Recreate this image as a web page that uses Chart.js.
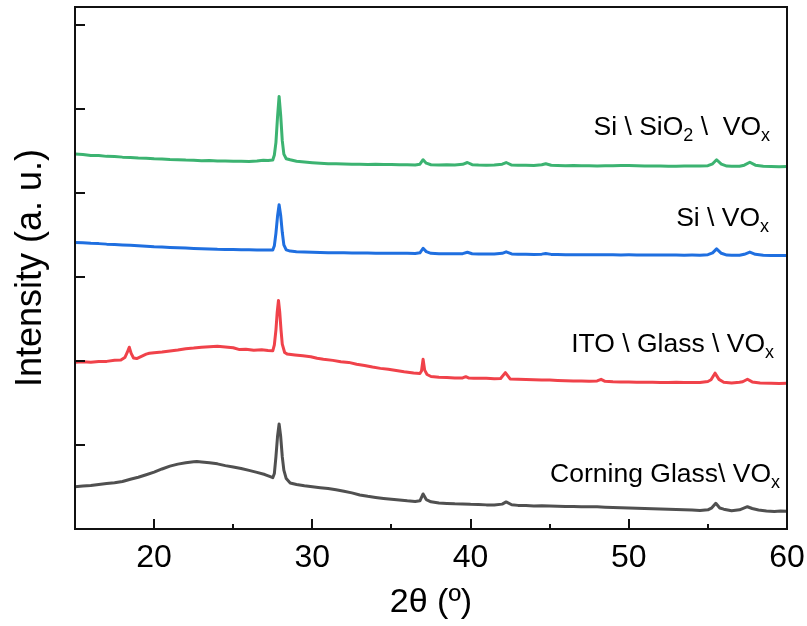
<!DOCTYPE html>
<html><head><meta charset="utf-8">
<script src="https://cdn.jsdelivr.net/npm/chart.js@4.4.1/dist/chart.umd.min.js"></script>
<style>html,body{margin:0;padding:0;background:#fff}</style>
</head><body>
<canvas id="c" width="807" height="626" style="width:807px;height:626px;display:block"></canvas>
<script>
// ---- data (2θ in degrees, intensity in offset arbitrary units) ----
const seriesNames = ["Corning Glass\\ VOx", "ITO \\ Glass \\ VOx", "Si \\ VOx", "Si \\ SiO2 \\  VOx"];
const xTickLabels = [20, 30, 40, 50, 60];

const corningGlass = [[15,0.504],[15.5,0.512],[16,0.518],[16.5,0.530],[17,0.540],[17.5,0.550],[18,0.565],[18.5,0.592],[19,0.616],[19.5,0.645],[20,0.676],[20.5,0.714],[21,0.748],[21.5,0.772],[22,0.787],[22.5,0.799],[22.7,0.802],[23,0.797],[23.5,0.788],[24,0.775],[24.5,0.754],[25,0.738],[25.5,0.720],[26,0.697],[26.5,0.674],[27,0.648],[27.3,0.625],[27.5,0.610],[27.6,0.66],[27.7,0.86],[27.8,1.10],[27.9,1.25],[28.0,1.10],[28.1,0.86],[28.2,0.70],[28.35,0.60],[28.6,0.548],[29,0.530],[29.5,0.515],[30,0.503],[30.5,0.492],[31,0.482],[31.5,0.466],[32,0.449],[32.5,0.430],[33,0.405],[33.5,0.389],[34,0.376],[34.5,0.364],[35,0.354],[35.5,0.345],[36,0.335],[36.5,0.328],[36.8,0.335],[37.0,0.417],[37.2,0.350],[37.5,0.324],[38,0.310],[38.5,0.304],[39,0.299],[39.5,0.297],[40,0.293],[40.5,0.292],[41,0.287],[41.5,0.286],[42,0.296],[42.25,0.322],[42.6,0.288],[43,0.281],[43.5,0.279],[44,0.275],[44.5,0.276],[45,0.274],[45.5,0.271],[46,0.268],[46.5,0.268],[47,0.266],[47.5,0.266],[48,0.264],[48.5,0.260],[49,0.256],[49.5,0.253],[50,0.250],[50.5,0.247],[51,0.244],[51.5,0.241],[52,0.238],[52.5,0.235],[53,0.232],[53.5,0.229],[54,0.226],[54.5,0.219],[55,0.228],[55.25,0.252],[55.5,0.306],[55.75,0.250],[56,0.236],[56.5,0.218],[57,0.228],[57.5,0.265],[57.8,0.244],[58.2,0.226],[58.7,0.214],[59.2,0.208],[59.6,0.214],[60,0.212]];

const itoGlass = [[15,1.985],[15.5,1.989],[16,1.983],[16.5,1.992],[17,1.994],[17.5,2.008],[17.9,2.010],[18.15,2.040],[18.3,2.100],[18.43,2.163],[18.55,2.090],[18.7,2.035],[18.9,2.028],[19.2,2.054],[19.5,2.080],[19.7,2.090],[20,2.098],[20.5,2.105],[21,2.118],[21.5,2.130],[22,2.145],[22.5,2.152],[23,2.163],[23.5,2.168],[24,2.173],[24.5,2.166],[25,2.156],[25.4,2.134],[25.8,2.139],[26.3,2.126],[26.8,2.132],[27.2,2.124],[27.5,2.120],[27.6,2.19],[27.7,2.37],[27.78,2.58],[27.86,2.718],[27.94,2.58],[28.02,2.37],[28.1,2.20],[28.25,2.10],[28.4,2.083],[28.9,2.071],[29.4,2.060],[29.9,2.050],[30.3,2.032],[30.7,2.020],[31.3,2.006],[31.8,1.990],[32.3,1.982],[32.8,1.960],[33.3,1.946],[33.8,1.927],[34.3,1.911],[34.8,1.900],[35.3,1.885],[35.8,1.870],[36.4,1.855],[36.8,1.850],[36.9,1.880],[37.0,2.020],[37.1,1.890],[37.25,1.838],[37.5,1.814],[38,1.806],[38.5,1.801],[39,1.795],[39.5,1.797],[39.7,1.812],[39.9,1.795],[40.2,1.794],[40.6,1.793],[41,1.792],[41.5,1.788],[41.9,1.790],[42.2,1.861],[42.5,1.785],[43,1.782],[43.5,1.780],[44,1.777],[44.5,1.774],[45,1.772],[45.5,1.768],[46,1.765],[46.5,1.762],[47,1.760],[47.5,1.757],[48,1.762],[48.25,1.780],[48.5,1.757],[49,1.752],[49.5,1.750],[50,1.748],[50.5,1.747],[51,1.746],[51.5,1.745],[52,1.744],[52.5,1.744],[53,1.745],[53.5,1.743],[54,1.742],[54.5,1.742],[55,1.755],[55.2,1.775],[55.45,1.854],[55.7,1.780],[56,1.746],[56.5,1.738],[57,1.745],[57.2,1.752],[57.5,1.782],[57.8,1.750],[58.3,1.738],[59,1.735],[59.5,1.732],[60,1.735]];

const siVOx = [[15,3.408],[15.5,3.404],[16,3.398],[16.5,3.395],[17,3.389],[17.5,3.386],[18,3.380],[18.5,3.376],[19,3.369],[19.5,3.364],[20,3.357],[20.5,3.354],[21,3.349],[21.5,3.346],[22,3.342],[22.5,3.337],[23,3.333],[23.5,3.331],[24,3.327],[24.5,3.326],[25,3.324],[25.5,3.322],[26,3.321],[26.5,3.320],[27,3.318],[27.5,3.318],[27.6,3.37],[27.7,3.52],[27.8,3.72],[27.9,3.857],[28.0,3.73],[28.1,3.53],[28.2,3.38],[28.35,3.320],[28.6,3.306],[29,3.299],[29.5,3.296],[30,3.292],[30.5,3.290],[31,3.287],[31.5,3.286],[32,3.285],[32.5,3.284],[33,3.282],[33.5,3.283],[34,3.281],[34.5,3.281],[35,3.280],[35.5,3.279],[36,3.279],[36.5,3.278],[36.8,3.286],[37.0,3.340],[37.2,3.300],[37.5,3.280],[38,3.275],[38.5,3.274],[39,3.274],[39.5,3.276],[39.8,3.292],[40.1,3.275],[40.5,3.273],[41,3.271],[41.5,3.272],[42,3.280],[42.25,3.298],[42.6,3.272],[43,3.270],[43.5,3.268],[44,3.267],[44.5,3.270],[44.75,3.278],[45.1,3.267],[45.5,3.265],[46,3.264],[46.5,3.264],[47,3.263],[47.5,3.263],[48,3.262],[48.5,3.263],[49,3.262],[49.5,3.261],[50,3.262],[50.5,3.261],[51,3.260],[51.5,3.261],[52,3.260],[52.5,3.259],[53,3.259],[53.5,3.258],[54,3.259],[54.5,3.258],[55,3.264],[55.3,3.285],[55.55,3.333],[55.85,3.280],[56.2,3.259],[56.5,3.257],[57,3.257],[57.3,3.268],[57.65,3.294],[58,3.268],[58.5,3.256],[59,3.254],[59.5,3.254],[60,3.253]];

const siSiO2VOx = [[15,4.461],[15.5,4.455],[16,4.444],[16.5,4.442],[17,4.433],[17.5,4.431],[18,4.424],[18.5,4.421],[19,4.414],[19.5,4.412],[20,4.404],[20.5,4.403],[21,4.396],[21.5,4.394],[22,4.389],[22.5,4.388],[23,4.382],[23.5,4.383],[24,4.377],[24.5,4.378],[25,4.374],[25.5,4.376],[26,4.373],[26.5,4.378],[26.9,4.388],[27.2,4.384],[27.5,4.390],[27.6,4.45],[27.7,4.60],[27.8,4.90],[27.9,5.146],[28.0,4.92],[28.1,4.62],[28.2,4.46],[28.35,4.405],[28.6,4.392],[29,4.374],[29.5,4.366],[30,4.358],[30.5,4.352],[31,4.346],[31.5,4.344],[32,4.341],[32.5,4.339],[33,4.340],[33.5,4.336],[34,4.339],[34.5,4.335],[35,4.337],[35.5,4.333],[36,4.334],[36.5,4.331],[36.8,4.340],[37.0,4.393],[37.2,4.352],[37.5,4.333],[38,4.331],[38.5,4.333],[39,4.330],[39.5,4.338],[39.8,4.360],[40.1,4.334],[40.5,4.329],[41,4.328],[41.5,4.330],[42,4.340],[42.25,4.360],[42.6,4.330],[43,4.327],[43.5,4.328],[44,4.325],[44.5,4.333],[44.75,4.345],[45.1,4.327],[45.5,4.324],[46,4.321],[46.5,4.323],[47,4.320],[47.5,4.322],[48,4.319],[48.5,4.321],[49,4.320],[49.5,4.324],[50,4.323],[50.5,4.321],[51,4.319],[51.5,4.318],[52,4.318],[52.5,4.316],[53,4.315],[53.5,4.317],[54,4.318],[54.5,4.317],[55,4.322],[55.3,4.345],[55.55,4.393],[55.85,4.340],[56.2,4.317],[56.5,4.315],[57,4.316],[57.3,4.328],[57.65,4.363],[58,4.328],[58.5,4.316],[59,4.313],[59.5,4.310],[60,4.312]];

// ---- presentation ----
const FONT = "'Liberation Sans', Arial, Helvetica, sans-serif";
const colors = ['#505050', '#f0424a', '#1f6fe0', '#3cb371'];
const allSeries = [corningGlass, itoGlass, siVOx, siSiO2VOx];

// label anchors: [right edge 2θ, baseline intensity]
const labelAnchors = [[59.56, 0.563], [59.18, 2.107], [58.87, 3.60], [58.93, 4.69]];

function toSegments(name) {
  const segs = [];
  const re = /(SiO)(2)|(VO)(x)/g;
  let last = 0, m;
  while ((m = re.exec(name)) !== null) {
    const base = m[1] || m[3], sub = m[2] || m[4];
    segs.push({t: name.slice(last, m.index) + base, sub: false});
    segs.push({t: sub, sub: true});
    last = m.index + m[0].length;
  }
  if (last < name.length) segs.push({t: name.slice(last), sub: false});
  return segs;
}

const framePlugin = {
  id: 'frame',
  afterDatasetsDraw(chart) {
    const {ctx, chartArea: a, scales: {x, y}} = chart;
    ctx.save();
    ctx.strokeStyle = '#111';
    ctx.lineWidth = 2;
    ctx.strokeRect(a.left, a.top, a.right - a.left, a.bottom - a.top);
    ctx.beginPath();
    x.ticks.forEach(t => {
      if (t.value <= x.min || t.value >= x.max) return;
      const px = Math.round(x.getPixelForValue(t.value));
      const len = (t.value % 10 === 0) ? 10 : 5;
      ctx.moveTo(px, a.bottom); ctx.lineTo(px, a.bottom - len);
    });
    y.ticks.forEach(t => {
      if (t.value <= 0) return;
      const py = Math.round(y.getPixelForValue(t.value));
      ctx.moveTo(a.left, py); ctx.lineTo(a.left + 10, py);
    });
    ctx.stroke();
    ctx.restore();
  }
};

const labelPlugin = {
  id: 'seriesLabels',
  afterDatasetsDraw(chart) {
    const {ctx, scales: {x, y}} = chart;
    ctx.save();
    ctx.fillStyle = '#000';
    ctx.textBaseline = 'alphabetic';
    ctx.textAlign = 'left';
    seriesNames.forEach((name, i) => {
      const segs = toSegments(name);
      const big = "26.5px " + FONT, small = "18px " + FONT;
      let w = 0;
      segs.forEach(s => { ctx.font = s.sub ? small : big; s.w = ctx.measureText(s.t).width; w += s.w; });
      let px = x.getPixelForValue(labelAnchors[i][0]) - w;
      const py = y.getPixelForValue(labelAnchors[i][1]);
      segs.forEach(s => {
        ctx.font = s.sub ? small : big;
        ctx.fillText(s.t, px, s.sub ? py + 6 : py);
        px += s.w;
      });
    });
    ctx.restore();
  }
};

new Chart(document.getElementById('c'), {
  type: 'line',
  data: {
    datasets: allSeries.map((s, i) => ({
      label: seriesNames[i],
      data: s.map(p => ({x: p[0], y: p[1]})),
      borderColor: colors[i],
      borderWidth: 3,
      pointRadius: 0,
      tension: 0,
      fill: false,
      borderJoinStyle: 'round'
    }))
  },
  options: {
    responsive: false,
    animation: false,
    devicePixelRatio: 1,
    layout: {padding: {top: 7, right: 20, left: 0, bottom: 0}},
    plugins: {legend: {display: false}, tooltip: {enabled: false}},
    scales: {
      x: {
        type: 'linear', min: 15, max: 60,
        afterFit(scale) { scale.height = 97; scale.paddingLeft = 0; scale.paddingRight = 0; },
        afterBuildTicks(scale) {
          const t = [];
          for (let v = 15; v <= 60; v += 5) t.push({value: v});
          scale.ticks = t;
        },
        grid: {display: false, drawTicks: false},
        border: {display: false},
        ticks: {
          autoSkip: false, maxRotation: 0, padding: 10,
          color: '#000',
          font: {family: FONT, size: 32},
          callback: v => xTickLabels.includes(v) ? String(v) : ''
        },
        title: {display: true, text: '2θ (º)', color: '#000',
                font: {family: FONT, size: 34}, padding: {top: 0, bottom: 3}}
      },
      y: {
        type: 'linear', min: 0, max: 6.21,
        afterFit(scale) { scale.width = 75; scale.paddingTop = 0; scale.paddingBottom = 0; },
        afterBuildTicks(scale) {
          const t = [];
          for (let v = 0; v <= 6; v++) t.push({value: v});
          scale.ticks = t;
        },
        grid: {display: false, drawTicks: false},
        border: {display: false},
        ticks: {display: false},
        title: {display: true, text: 'Intensity (a. u.)', color: '#000',
                font: {family: FONT, size: 36}, padding: {top: 9, bottom: 0}}
      }
    }
  },
  plugins: [framePlugin, labelPlugin]
});
</script>
</body></html>
